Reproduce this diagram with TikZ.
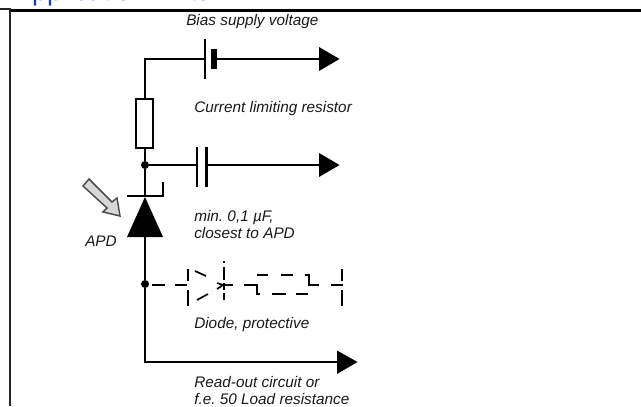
\documentclass[tikz,border=0pt]{standalone}
\usepackage{fontspec}
\setmainfont{Liberation Sans}
\usetikzlibrary{arrows.meta}
\definecolor{headblue}{RGB}{30,60,170}
\definecolor{arrowgrey}{RGB}{215,215,215}
\frenchspacing
\tikzset{
  x=0.75pt,y=-0.75pt,
  wire/.style={line width=1.7pt,line cap=butt},
  plate/.style={line width=2pt},
  fine/.style={line width=1.25pt},
  dashwire/.style={line width=1.3pt},
  solidtip/.style={fill=black,draw=none},
  junction/.style={circle,fill=black,inner sep=0pt,minimum size=6pt},
  lab/.style={font=\fontsize{11.5pt}{12.7pt}\selectfont\itshape,anchor=base west,inner sep=0pt,align=left,text=black!90}
}
\begin{document}
\begin{tikzpicture}
\useasboundingbox (0,0) rectangle (641,406);
\begin{scope}
\clip (0,0) rectangle (641,406);
\node[anchor=base west,inner sep=0pt,text=headblue,font=\fontsize{20.2pt}{22pt}\selectfont] (head) at (14,0.6) {Application hints};
\draw[line width=2.25pt] (11,10.5) -- (641,10.5);
\draw[line width=1.1pt,draw=black!85] (0,9) -- (10,9) -- (10,406);
\coordinate (tl) at (145,59);
\coordinate (j1) at (145,165);
\coordinate (j2) at (145,284);
\coordinate (bl) at (145,362);
\node[junction] (n1) at (j1) {};
\node[junction] (n2) at (j2) {};
% supply
\draw[wire] (145,98) -- (tl) -- (205,59);
\draw[wire] (217,59) -- (320,59);
\draw[plate] (205,39) -- (205,79);
\draw[line width=4.5pt] (214,49) -- (214,69);
\fill[solidtip] (319,47) -- (339.5,59) -- (319,71) -- cycle;
% resistor
\node[draw,line width=1.6pt,minimum width=12.8pt,minimum height=36.8pt,inner sep=0pt,anchor=north] (r) at (144.5,98) {};
\draw[wire] (145,147) -- (n1);
% capacitor
\draw[wire] (n1) -- (197,165);
\draw[wire] (206.5,165) -- (320,165);
\draw[plate] (197,147) -- (197,187);
\draw[plate] (206.5,147) -- (206.5,187);
\fill[solidtip] (319,153) -- (339.5,165) -- (319,177) -- cycle;
% APD
\draw[wire] (n1) -- (145,196);
\draw[line width=2pt] (127,196) -- (163,196) -- (163,182);
\fill[solidtip] (145,197) -- (163,237) -- (127,237) -- cycle;
\draw[wire] (145,237) -- (n2);
% light arrow
\draw[draw=black!70,fill=arrowgrey,line width=1.1pt] (83,186) -- (89,179) -- (112,202) -- (117,198) -- (120,216) -- (103,212) -- (107,208) -- cycle;
% protective diode, dashed
\draw[dashwire] (152,285) -- (165,285);
\draw[dashwire] (175,285) -- (187,285);
\draw[line width=1.7pt] (188,269) -- (188,281);
\draw[line width=1.7pt] (188,290) -- (188,306);
\draw[fine] (195,271) -- (206,276);
\draw[fine] (197,300) -- (208,294);
\draw[fine] (217,283) -- (223,285) -- (217,289);
\draw[line width=1.7pt] (224,261) -- (224,263);
\draw[line width=1.7pt] (224,267) -- (224,280);
\draw[line width=1.7pt] (224,283) -- (224,290);
\draw[line width=1.7pt] (224,293) -- (224,300);
\draw[dashwire] (224,285) -- (233,285);
\draw[dashwire] (244,285) -- (257,285) -- (257,294) -- (260,294);
\draw[dashwire] (272,294) -- (286,294);
\draw[dashwire] (296,294) -- (308,294);
\draw[dashwire] (257,275) -- (268,275);
\draw[dashwire] (281,275) -- (293,275);
\draw[dashwire] (305,275) -- (309,275) -- (309,285) -- (319,285);
\draw[dashwire] (331,285) -- (343,285);
\draw[line width=1.9pt] (342,269) -- (342,281);
\draw[line width=1.9pt] (342,290) -- (342,306);
% read-out
\draw[wire] (n2) -- (bl) -- (338,362);
\fill[solidtip] (337,350.5) -- (357.5,362) -- (337,374) -- cycle;
% labels
\node[lab] (t1) at (186,26) {Bias supply voltage};
\node[lab] (t2) at (194,113) {Current limiting resistor};
\node[lab] (t3) at (194,238) {min. 0,1 µF,\\closest to APD};
\node[lab] (t4) at (85,246) {APD};
\node[lab] (t5) at (194,328) {Diode, protective};
\node[lab] (t6) at (194,404) {Read-out circuit or\\f.e. 50 Load resistance};
\end{scope}
\end{tikzpicture}
\end{document}
